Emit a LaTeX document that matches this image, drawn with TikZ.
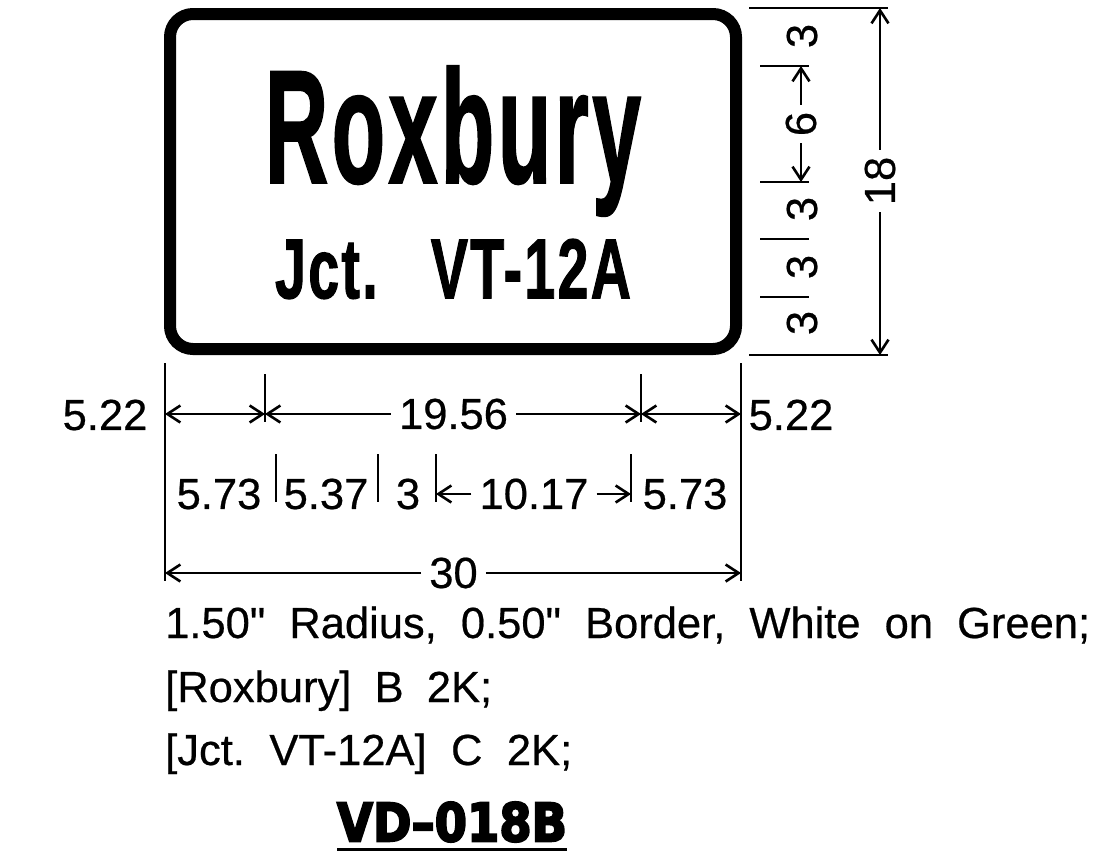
\documentclass[tikz,border=0pt]{standalone}
\usepackage{fontspec}
\usepackage{graphicx}
\usetikzlibrary{arrows.meta}
\setmainfont{Liberation Sans}
\newfontfamily\dimfont{Liberation Sans}[FakeBold=0.5]
\newfontfamily\signfont{Liberation Sans Bold}[LetterSpace=4,FakeBold=1.5]
\newfontfamily\titlefont{DejaVu Sans Bold}[FakeBold=4]

\begin{document}
\begin{tikzpicture}[x=1pt,y=-1pt,
    dimtext/.style={font=\fontsize{43.5}{50}\dimfont, inner xsep=8pt, inner ysep=0pt},
    dimside/.style={dimtext, rotate=90},
    noteline/.style={font=\fontsize{43.5}{50}\dimfont\frenchspacing, anchor=base west, inner sep=0pt},
    signtext/.style={font=\fontsize{100}{110}\signfont\frenchspacing, inner sep=0pt},
    dimline/.style={line width=2.6pt},
    dimend/.style={dimline, -{Straight Barb[length=13pt,width=17pt]}},
    dimboth/.style={dimline, {Straight Barb[length=13pt,width=17pt]}-{Straight Barb[length=13pt,width=17pt]}}]
    \useasboundingbox (0,0) rectangle (1115,857);

    % Sign panel
    \node[draw, line width=12pt, rounded corners=23pt, minimum width=566pt, minimum height=335pt, inner sep=0pt] (sign) at (453,181.5) {};
    \node[signtext] (legend1) at (453,141) {\resizebox*{376pt}{150pt}{Roxbury}};
    \node[signtext] (legend2) at (453,269) {\resizebox*{356pt}{60pt}{Jct.\ \ \ VT-12A}};

    % Heights on the right
    \coordinate (hta) at (749,8);
    \coordinate (htb) at (888,8);
    \coordinate (hba) at (749,355);
    \coordinate (hbb) at (888,355);
    \draw[dimline] (hta) -- (htb);
    \draw[dimline] (hba) -- (hbb);

    \coordinate (s1a) at (760,66);
    \coordinate (s1b) at (809,66);
    \coordinate (s2a) at (760,182);
    \coordinate (s2b) at (809,182);
    \coordinate (s3a) at (760,239);
    \coordinate (s3b) at (809,239);
    \coordinate (s4a) at (760,297);
    \coordinate (s4b) at (809,297);
    \draw[dimline] (s1a) -- (s1b);
    \draw[dimline] (s2a) -- (s2b);
    \draw[dimline] (s3a) -- (s3b);
    \draw[dimline] (s4a) -- (s4b);

    \node[dimside] (h1) at (802,36) {3};
    \node[dimside, inner xsep=7pt] (h2) at (801,124) {6};
    \node[dimside] (h3) at (802,209) {3};
    \node[dimside] (h4) at (802,267) {3};
    \node[dimside] (h5) at (802,323) {3};
    \coordinate (h2t) at (801,66);
    \coordinate (h2b) at (801,182);
    \draw[dimend] (h2) -- (h2t);
    \draw[dimend] (h2) -- (h2b);

    \node[dimside, inner xsep=7pt] (htotal) at (880,181) {18};
    \coordinate (htt) at (880,8);
    \coordinate (htd) at (880,355);
    \draw[dimend] (htotal) -- (htt);
    \draw[dimend] (htotal) -- (htd);

    % Widths below
    \coordinate (wlt) at (165,363);
    \coordinate (wlb) at (165,581);
    \coordinate (wrt) at (741,363);
    \coordinate (wrb) at (741,581);
    \draw[dimline] (wlt) -- (wlb);
    \draw[dimline] (wrt) -- (wrb);

    % First row
    \coordinate (r1l) at (165,414);
    \coordinate (r1r) at (741,414);
    \coordinate (r1a) at (265,414);
    \coordinate (r1b) at (641,414);
    \coordinate (r1at) at (265,374);
    \coordinate (r1ab) at (265,422);
    \coordinate (r1bt) at (641,374);
    \coordinate (r1bb) at (641,422);
    \draw[dimline] (r1at) -- (r1ab);
    \draw[dimline] (r1bt) -- (r1bb);
    \draw[dimboth] (r1l) -- (r1a);
    \draw[dimboth] (r1b) -- (r1r);
    \node[dimtext] (w1) at (105,415) {5.22};
    \node[dimtext] (w2) at (453.5,414) {19.56};
    \node[dimtext] (w3) at (791,415) {5.22};
    \draw[dimend] (w2) -- (r1a);
    \draw[dimend] (w2) -- (r1b);

    % Second row
    \coordinate (r2at) at (276,454);
    \coordinate (r2ab) at (276,502);
    \coordinate (r2bt) at (378,454);
    \coordinate (r2bb) at (378,502);
    \coordinate (r2ct) at (436,454);
    \coordinate (r2cb) at (436,502);
    \coordinate (r2dt) at (631,454);
    \coordinate (r2db) at (631,502);
    \draw[dimline] (r2at) -- (r2ab);
    \draw[dimline] (r2bt) -- (r2bb);
    \draw[dimline] (r2ct) -- (r2cb);
    \draw[dimline] (r2dt) -- (r2db);
    \node[dimtext] (x1) at (219,494) {5.73};
    \node[dimtext] (x2) at (326,494) {5.37};
    \node[dimtext] (x3) at (408,494) {3};
    \node[dimtext] (x4) at (534,494) {10.17};
    \node[dimtext] (x5) at (685,494) {5.73};
    \coordinate (r2c) at (436,494);
    \coordinate (r2d) at (631,494);
    \draw[dimend] (x4) -- (r2c);
    \draw[dimend] (x4) -- (r2d);

    % Third row
    \node[dimtext] (wtotal) at (453.5,573) {30};
    \coordinate (r3l) at (165,573);
    \coordinate (r3r) at (741,573);
    \draw[dimend] (wtotal) -- (r3l);
    \draw[dimend] (wtotal) -- (r3r);

    % Notes
    \node[noteline] (note1) at (165,638) {\makebox[925pt][s]{1.50" Radius, 0.50" Border, White on Green;}};
    \node[noteline] (note2) at (165,702) {\makebox[327pt][s]{[Roxbury] B 2K;}};
    \node[noteline] (note3) at (165,765) {\makebox[407pt][s]{[Jct. VT-12A] C 2K;}};

    % Sign code
    \node[inner sep=0pt, font=\fontsize{60}{70}\titlefont] (code) at (452,822) {\resizebox*{230pt}{40pt}{VD–018B}};
    \coordinate (ula) at (337,849);
    \coordinate (ulb) at (567,849);
    \draw[line width=3pt] (ula) -- (ulb);
\end{tikzpicture}
\end{document}
